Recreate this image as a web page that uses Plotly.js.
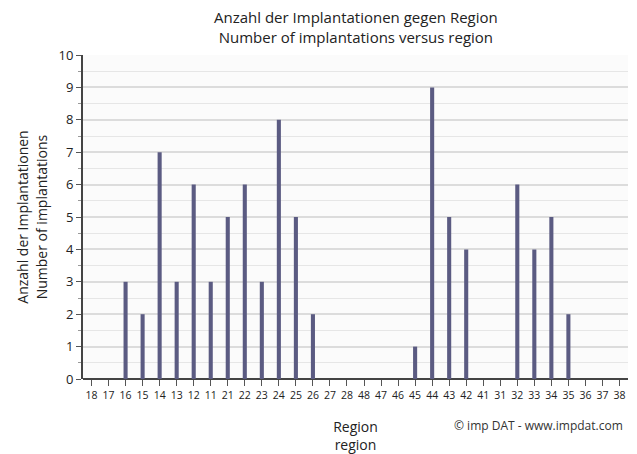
<!DOCTYPE html>
<html>
<head>
<meta charset="utf-8">
<script src="https://cdn.plot.ly/plotly-3.0.1.min.js"></script>
<style>html,body{margin:0;padding:0;background:#fff;}#chart{width:637px;height:454px;}</style>
</head>
<body>
<div id="chart"></div>
<script>
const regions = ["18","17","16","15","14","13","12","11","21","22","23","24","25","26","27","28","48","47","46","45","44","43","42","41","31","32","33","34","35","36","37","38"];
const implantations = [0,0,3,2,7,3,6,3,5,6,3,8,5,2,0,0,0,0,0,1,9,5,4,0,0,6,4,5,2,0,0,0];
const yTicks = [0,1,2,3,4,5,6,7,8,9,10];

const font = "Open Sans, Noto Sans, sans-serif";
Plotly.newPlot("chart", [{
  type: "bar",
  x: regions,
  y: implantations,
  width: 0.24,
  marker: {color: "#5b5b82", line: {width: 0}},
  hoverinfo: "x+y"
}], {
  width: 637, height: 454,
  margin: {l: 83, r: 9, t: 55, b: 75},
  paper_bgcolor: "#ffffff",
  plot_bgcolor: "#fbfbfb",
  showlegend: false,
  font: {family: font, color: "#222"},
  xaxis: {
    type: "category", categoryorder: "array", categoryarray: regions,
    range: [-0.5, 31.5],
    showgrid: false, zeroline: false,
    ticks: "outside", ticklen: 6, tickcolor: "#555", tickwidth: 1,
    tickfont: {size: 10.5, color: "#222"},
    showline: false,
    title: {text: "Region<br>region", font: {size: 14, color: "#222"}, standoff: 22}
  },
  yaxis: {
    range: [0, 10],
    tickvals: yTicks,
    showline: true, linecolor: "#444", linewidth: 2,
    ticks: "outside", ticklen: 5, tickcolor: "#555",
    tickfont: {size: 13, color: "#222"},
    showgrid: true, gridcolor: "#dcdcdc", gridwidth: 1.5,
    zeroline: true, zerolinecolor: "#444", zerolinewidth: 2,
    minor: {dtick: 0.5, showgrid: true, gridcolor: "#e6e6e6", gridwidth: 1, ticks: "outside", ticklen: 3, tickcolor: "#999"},
    title: {text: "Anzahl der Implantationen<br>Number of implantations", font: {size: 14, color: "#222"}, standoff: 8}
  },
  annotations: [{
    text: "Anzahl der Implantationen gegen Region<br>Number of implantations versus region",
    xref: "paper", yref: "paper", x: 0.5, y: 1.02, xanchor: "center", yanchor: "bottom",
    showarrow: false, font: {size: 15, color: "#222"}
  }, {
    text: "© imp DAT - www.impdat.com",
    xref: "paper", yref: "paper", x: 0.995, y: -0.142, xanchor: "right", yanchor: "middle",
    showarrow: false, font: {size: 12, color: "#333"}
  }]
}, {displayModeBar: false});
</script>
</body>
</html>
